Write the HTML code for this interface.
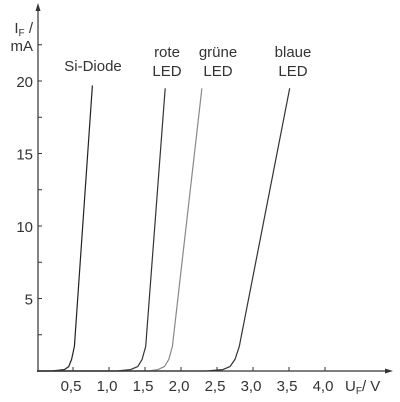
<!DOCTYPE html>
<html><head><meta charset="utf-8"><style>
body{margin:0;background:#fff}
svg{display:block}
text{font-family:"Liberation Sans",sans-serif;fill:#333;font-size:15px}
</style></head><body>
<svg width="400" height="402" viewBox="0 0 400 402">
<g id="axes"></g>
<g id="curves"></g>
<g id="labels"></g>
</svg>
<script>
const xTicks=[0.5,1.0,1.5,2.0,2.5,3.0,3.5,4.0];
const xTickLabels=["0,5","1,0","1,5","2,0","2,5","3,0","3,5","4,0"];
const yTicks=[2.5,5,7.5,10,12.5,15,17.5,20,22.5];
const yTickLabels=["5","10","15","20"];
const yTickLabelVals=[5,10,15,20];
const siV=[0,0.2,0.38,0.44,0.48,0.52,0.77];
const siI=[0,0,0.1,0.3,0.8,1.7,19.7];
const redV=[0,1.1,1.3,1.4,1.46,1.51,1.78];
const redI=[0,0,0.1,0.3,0.8,1.7,19.5];
const greenV=[0,1.55,1.68,1.77,1.83,1.88,2.29];
const greenI=[0,0,0.1,0.3,0.8,1.7,19.5];
const blueV=[0,2.35,2.58,2.68,2.75,2.81,3.51];
const blueI=[0,0,0.1,0.3,0.8,1.7,19.5];
const NS="http://www.w3.org/2000/svg";
const X=v=>37+72*v, Y=i=>371-14.5*i;
function el(tag,attrs,parent,txt){const e=document.createElementNS(NS,tag);for(const k in attrs)e.setAttribute(k,attrs[k]);if(txt!==undefined)e.textContent=txt;document.getElementById(parent).appendChild(e);return e;}
let a=el('line',{x1:38,y1:372,x2:38,y2:8,stroke:'#333','stroke-width':1.2},'axes');

a=el('polygon',{points:'38,3 35.5,11 40.5,11',fill:'#333'},'axes');

a=el('line',{x1:38,y1:371,x2:387,y2:371,stroke:'#333','stroke-width':1.2},'axes');

a=el('polygon',{points:'393,371 385,368.5 385,373.5',fill:'#333'},'axes');

xTicks.forEach((v,k)=>{
 let t=el('line',{x1:X(v),y1:371,x2:X(v),y2:367,stroke:'#333'},'axes');
 
 t=el('text',{x:X(v)-2,y:391,'text-anchor':'middle','font-size':16},'axes',xTickLabels[k]);
 
});
yTicks.forEach(v=>{
 let t=el('line',{x1:38,y1:Y(v),x2:42,y2:Y(v),stroke:'#333'},'axes');
 
});
yTickLabelVals.forEach((v,k)=>{
 let t=el('text',{x:33,y:Y(v)+6,'text-anchor':'end','font-size':16,fill:'#555'},'axes',yTickLabels[k]);
 
});
let t=el('text',{x:33,y:33,'text-anchor':'end','font-size':16,fill:'#555'},'axes','I');

t.innerHTML='I<tspan font-size="10" dy="3">F</tspan><tspan dy="-3"> /</tspan>';
t=el('text',{x:33,y:51,'text-anchor':'end','font-size':16,fill:'#555'},'axes','mA');

t=el('text',{x:345,y:391,'font-size':16},'axes','');

t.innerHTML='U<tspan font-size="10" dy="3">F</tspan><tspan dy="-3">/ V</tspan>';
const series=[["si-diode-curve",siV,siI,'#222'],["red-led-curve",redV,redI,'#333'],["green-led-curve",greenV,greenI,'#888'],["blue-led-curve",blueV,blueI,'#333']];
series.forEach(s=>{
 const d=s[1].map((v,k)=>(k?'L':'M')+X(v).toFixed(1)+','+Y(s[2][k]).toFixed(1)).join(' ');
 const p=el('path',{d:d,fill:'none',stroke:s[3],'stroke-width':1.2,'stroke-linejoin':'round'},'curves');
 
});
const labs=[["Si-Diode",93,71],["rote",167,57],["LED",167,76],["grüne",218,57],["LED",218,76],["blaue",293,57],["LED",293,76]];
labs.forEach(l=>{
 const e=el('text',{x:l[1],y:l[2],'text-anchor':'middle','font-size':15},'labels',l[0]);
 
});
</script>
</body></html>
